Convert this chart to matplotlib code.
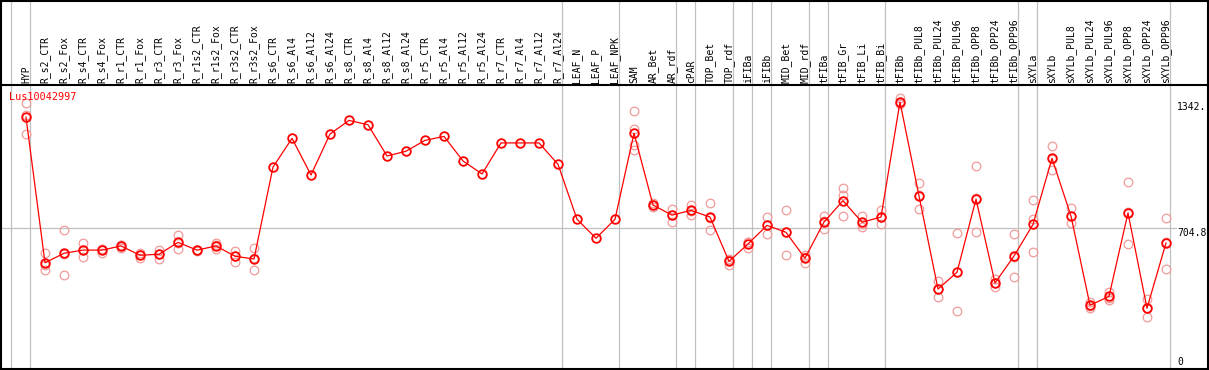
import matplotlib
matplotlib.use("Agg")
import matplotlib.pyplot as plt
from matplotlib.lines import Line2D

# ---------------- data ----------------
groups = [
    ["HYP"],
    ["R_s2_CTR", "R_s2_Fox", "R_s4_CTR", "R_s4_Fox", "R_r1_CTR", "R_r1_Fox",
     "R_r3_CTR", "R_r3_Fox", "R_r1s2_CTR", "R_r1s2_Fox", "R_r3s2_CTR", "R_r3s2_Fox",
     "R_s6_CTR", "R_s6_Al4", "R_s6_Al12", "R_s6_Al24", "R_s8_CTR", "R_s8_Al4",
     "R_s8_Al12", "R_s8_Al24", "R_r5_CTR", "R_r5_Al4", "R_r5_Al12", "R_r5_Al24",
     "R_r7_CTR", "R_r7_Al4", "R_r7_Al12", "R_r7_Al24"],
    ["LEAF_N", "LEAF_P", "LEAF_NPK"],
    ["SAM", "AR_Bet", "AR_rdf"],
    ["cPAR"],
    ["TOP_Bet", "TOP_rdf"],
    ["iFIBa"],
    ["iFIBb"],
    ["MID_Bet", "MID_rdf"],
    ["tFIBa"],
    ["tFIB_Gr", "tFIB_Li", "tFIB_Bi"],
    ["tFIBb", "tFIBb_PUL8", "tFIBb_PUL24", "tFIBb_PUL96", "tFIBb_OPP8",
     "tFIBb_OPP24", "tFIBb_OPP96"],
    ["sXYLa"],
    ["sXYLb", "sXYLb_PUL8", "sXYLb_PUL24", "sXYLb_PUL96", "sXYLb_OPP8",
     "sXYLb_OPP24", "sXYLb_OPP96"],
]
categories = [c for g in groups for c in g]

means = [
    1265,
    529, 577, 593, 593, 614, 567, 572, 632, 593, 614, 562, 548,
    1013, 1158, 973, 1180, 1249, 1227, 1069, 1093, 1148, 1168, 1044, 978,
    1135, 1135, 1135, 1027,
    749, 653, 749,
    1184, 821, 770,
    794,
    760, 536,
    624,
    718,
    683, 552,
    735,
    843, 734, 760,
    1342, 867, 396, 481, 851, 427, 563,
    723,
    1057, 765, 314, 359, 781, 299, 629,
]

replicates = [
    [1337, 1276, 1180],
    [577, 491, 519], [693, 467, 571], [629, 557, 594], [600, 580, 600],
    [619, 604, 619], [578, 553, 570], [593, 549, 574], [668, 600, 628],
    [590, 596, 593], [627, 597, 618], [588, 534, 564], [602, 491, 551],
    [], [], [], [], [], [], [], [], [], [], [], [], [], [], [], [],
    [], [], [],
    [1296, 1204, 1124, 1099], [831, 811, 821], [802, 737, 773],
    [821, 769, 792],
    [830, 693, 757], [548, 518, 542],
    [634, 604, 634],
    [760, 676, 718],
    [796, 568, 685], [568, 528, 560],
    [765, 701, 739],
    [905, 870, 765], [765, 711, 726], [796, 723, 760],
    [1360, 1336, 1330], [931, 799, 871], [437, 354, 397], [678, 285, 480],
    [1017, 683, 855], [445, 408, 428], [674, 455, 560],
    [846, 749, 582],
    [1119, 998, 1054], [804, 729, 764], [332, 299, 311], [383, 341, 353],
    [936, 622, 784], [346, 253, 298], [755, 496, 636],
]

gene_id = "Lus10042997"
ytick_values = [1342, 704.8, 0]
ytick_labels = ["1342.", "704.8", "0"]

# ---------------- layout ----------------
W, H = 1209, 370
fig = plt.figure(figsize=(W / 100, H / 100), dpi=100)
fig.patch.set_facecolor("white")

FONT = "DejaVu Sans Mono"
FS = 7

x0_px, step_px = 26, 19
xlim = (-x0_px / step_px, (W - x0_px) / step_px)

header_px = 86
plot_bottom_px = 369
# value <-> pixel mapping: 704.8 at y=228, 1342 at y=102
slope = (1342 - 704.8) / (228 - 102)
def v_at(ypix):
    return 704.8 + (228 - ypix) * slope

ax = fig.add_axes([0, (H - plot_bottom_px) / H, 1, (plot_bottom_px - header_px) / H])
ax.set_xlim(*xlim)
ax.set_ylim(v_at(plot_bottom_px), v_at(header_px))
ax.axis("off")

hax = fig.add_axes([0, (H - header_px) / H, 1, header_px / H])
hax.set_xlim(*xlim)
hax.set_ylim(0, 1)
hax.axis("off")

xs = list(range(len(categories)))

# group separators
bounds = [-1]
n = 0
for g in groups:
    n += len(g)
    bounds.append(n - 1)
off = 4 / step_px
for b in bounds:
    ax.axvline(b + off, color="#c0c0c0", lw=0.9, zorder=1)
    hax.axvline(b + off, color="#c0c0c0", lw=0.9, zorder=1)

# horizontal reference line
ax.axhline(ytick_values[1], xmin=0, xmax=1176 / W, color="#c0c0c0", lw=0.9, zorder=1)

# replicates
rx, ry = [], []
for i, reps in enumerate(replicates):
    for r in reps:
        rx.append(i)
        ry.append(r)
ax.plot(rx, ry, linestyle="none", marker="o", markersize=6.2,
        markerfacecolor="none", markeredgecolor="#f09a9a", markeredgewidth=0.9,
        zorder=2)

# means
ax.plot(xs, means, color="#ff0000", lw=0.9, marker="o", markersize=6.2,
        markerfacecolor="none", markeredgecolor="#ff0000", markeredgewidth=1.3,
        zorder=3)

# header labels
for i, c in enumerate(categories):
    hax.text(i, (header_px - 83) / header_px, c, rotation=90, ha="center",
             va="bottom", fontsize=FS, family=FONT, color="black")

# gene id
fig.text(9 / W, (H - 97) / H, gene_id, color="#ff0000", fontsize=FS + 0.3,
         family=FONT, ha="left", va="center")

# right-side value labels
lab_x = 1177 / W
ax.text(lab_x, ytick_values[0], ytick_labels[0], transform=ax.get_yaxis_transform(),
        ha="left", va="top", fontsize=FS, family=FONT, color="black")
ax.text(lab_x, ytick_values[1], ytick_labels[1], transform=ax.get_yaxis_transform(),
        ha="left", va="top", fontsize=FS, family=FONT, color="black")
ax.text(lab_x, ytick_values[2], ytick_labels[2], transform=ax.get_yaxis_transform(),
        ha="left", va="bottom", fontsize=FS, family=FONT, color="black")

# frame lines (figure pixel coordinates)
def fline(x1, y1, x2, y2):
    fig.add_artist(Line2D([x1 / W, x2 / W], [(H - y1) / H, (H - y2) / H],
                          color="black", lw=1.5, transform=fig.transFigure))

fline(1, 0.5, 1, 369)
fline(1207.5, 0.5, 1207.5, 369)
fline(0, 0.8, W, 0.8)
fline(0, 368.5, W, 368.5)
fline(0, 85.2, W, 85.2)

fig.savefig("out.png", dpi=100, facecolor="white")
